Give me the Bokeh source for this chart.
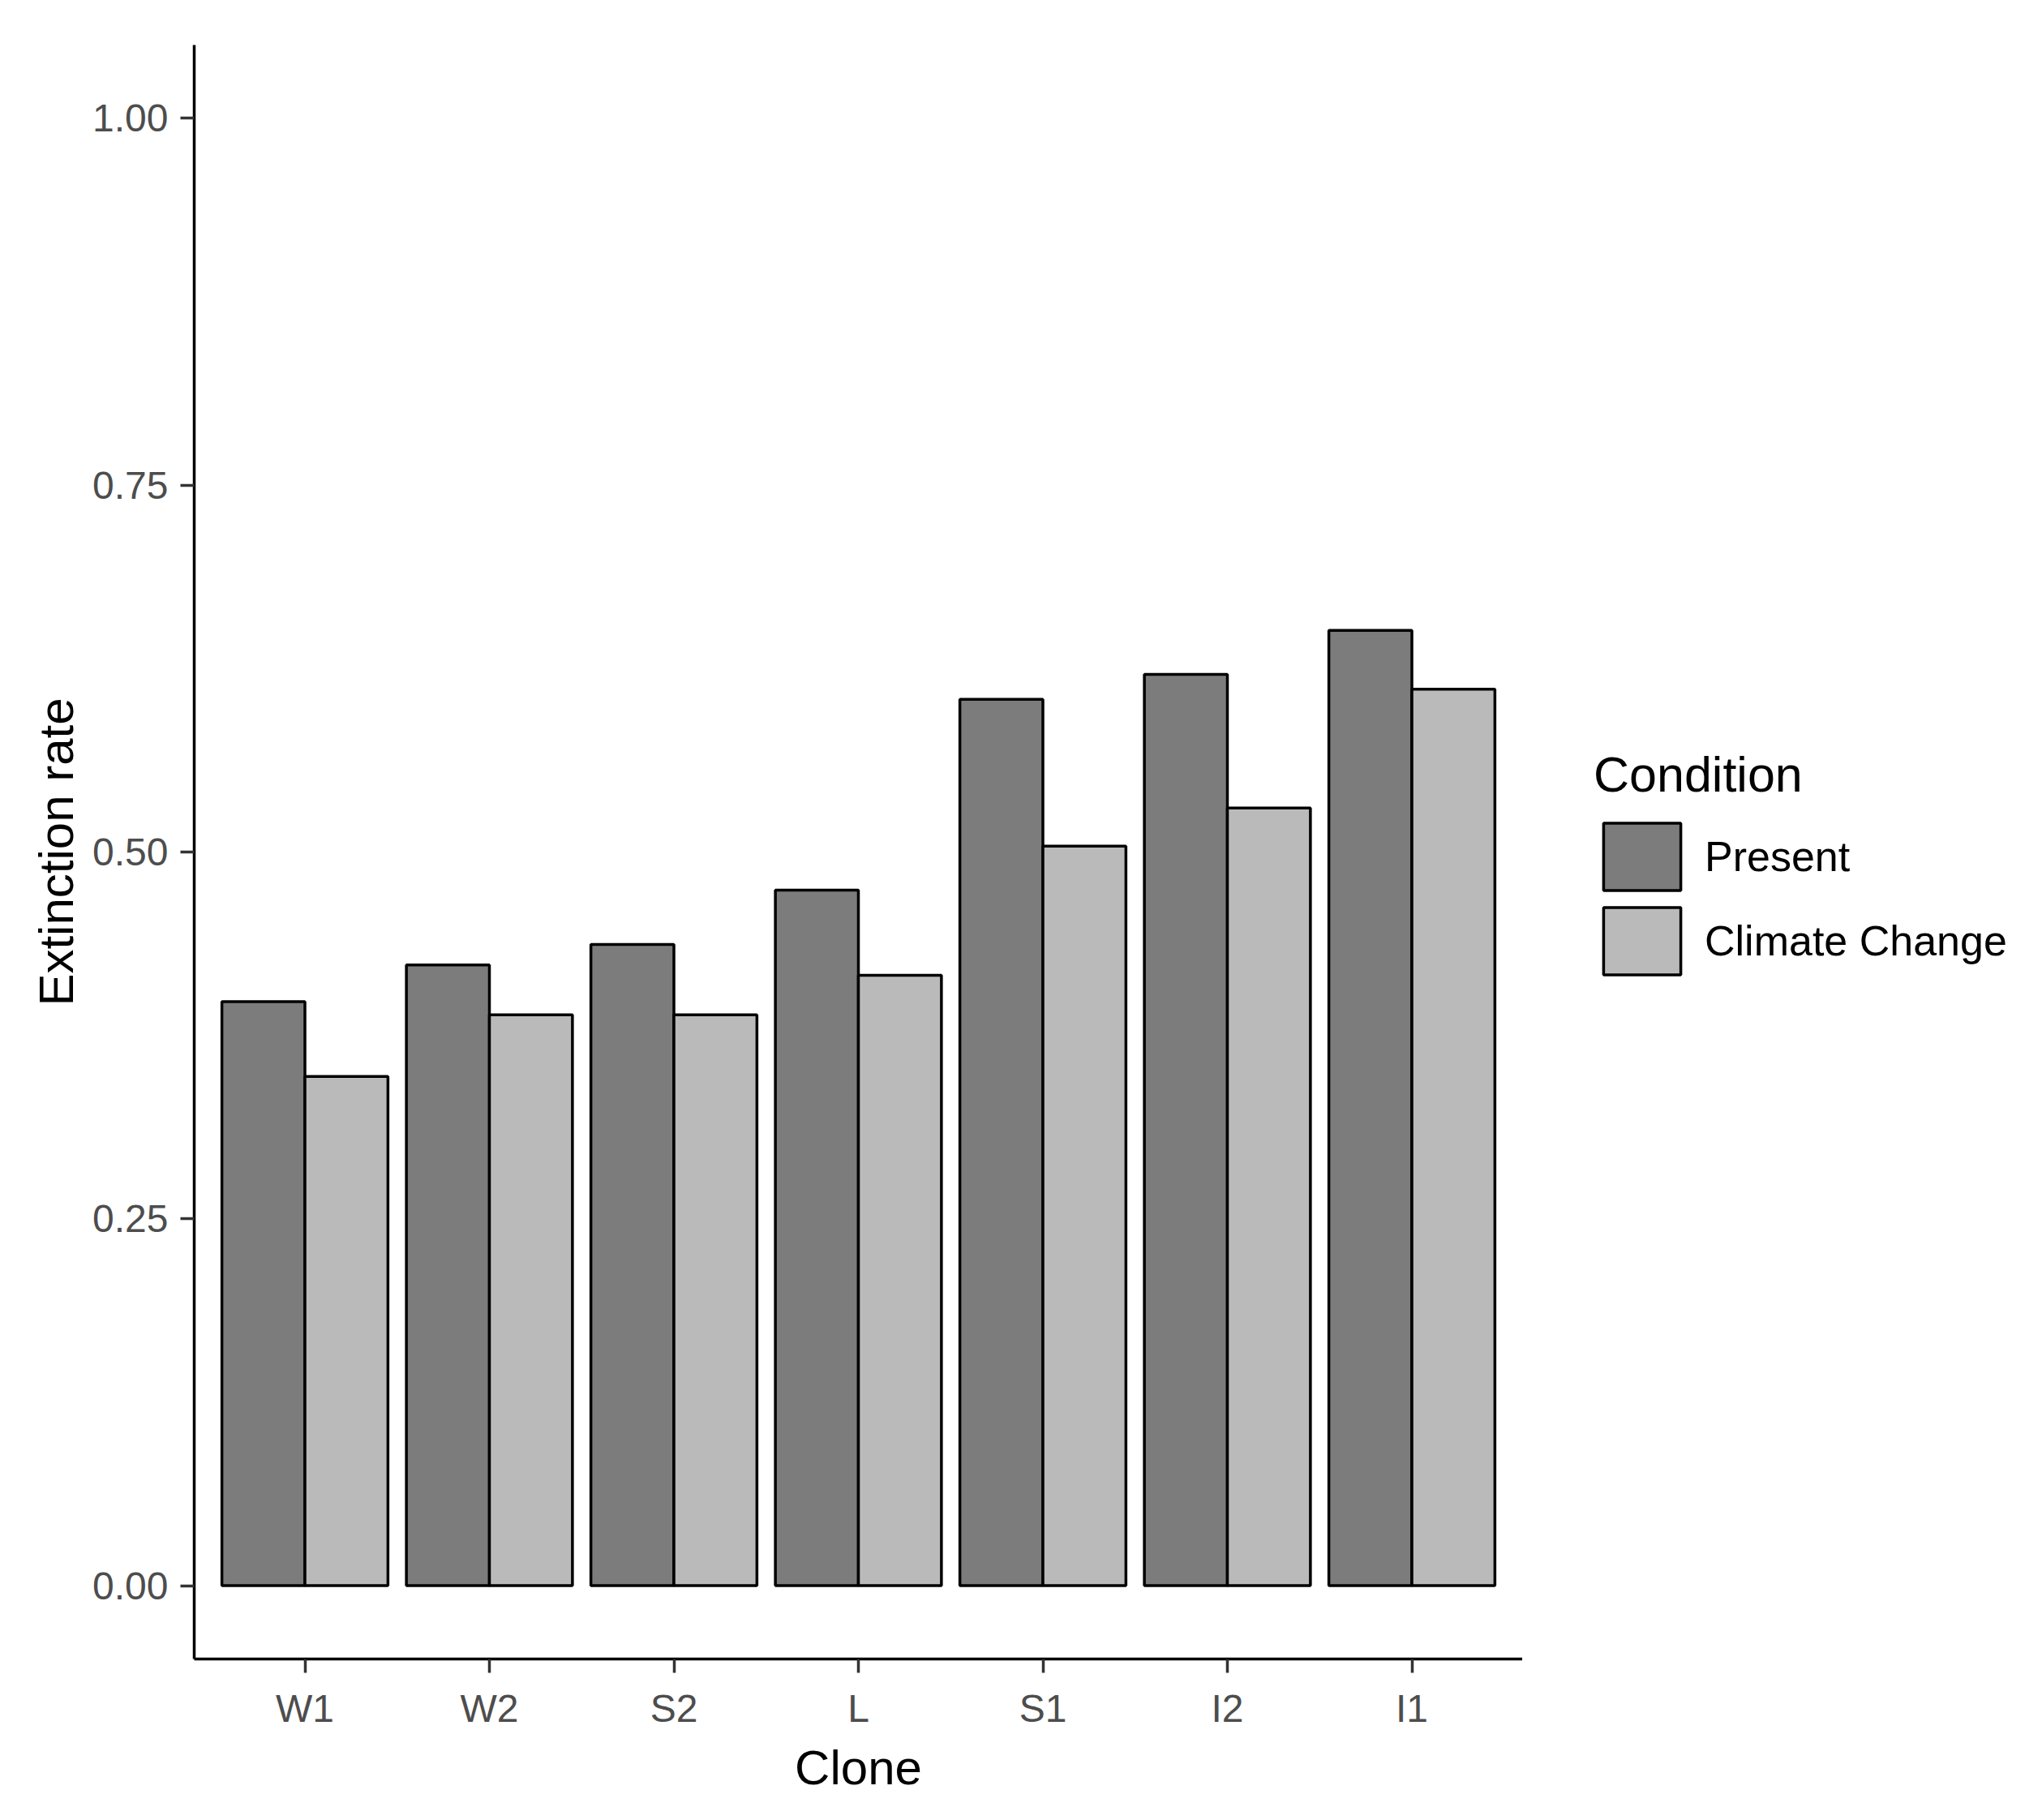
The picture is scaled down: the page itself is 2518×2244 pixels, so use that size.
from bokeh.plotting import figure
from bokeh.layouts import row
from bokeh.models import (ColumnDataSource, FactorRange, FixedTicker, PrintfTickFormatter,
                          Legend, LegendItem, Range1d)
from bokeh.transform import dodge
from bokeh.embed import file_html
from bokeh.resources import INLINE

clones = ["W1", "W2", "S2", "L", "S1", "I2", "I1"]
present = [0.398, 0.423, 0.437, 0.474, 0.604, 0.621, 0.651]
climate_change = [0.347, 0.389, 0.389, 0.416, 0.504, 0.530, 0.611]
y_ticks = [0.0, 0.25, 0.50, 0.75, 1.00]
conditions = ["Present", "Climate Change"]
colors = ["#7C7C7C", "#BABABA"]

source = ColumnDataSource(data=dict(clone=clones, present=present, cc=climate_change))

FONT = "Liberation Sans"

# ---- main plot -------------------------------------------------------------
p = figure(x_range=FactorRange(factors=clones, range_padding=0.1, range_padding_units="absolute"),
           y_range=Range1d(-0.05, 1.05),
           width=1877, height=2228,
           min_border_left=239, min_border_top=55, min_border_bottom=183, min_border_right=0,
           output_backend="svg", toolbar_location=None)

p.vbar(x=dodge("clone", -0.225, range=p.x_range), top="present", width=0.45, bottom=0,
       source=source, fill_color=colors[0], line_color="black", line_width=3.5)
p.vbar(x=dodge("clone", 0.225, range=p.x_range), top="cc", width=0.45, bottom=0,
       source=source, fill_color=colors[1], line_color="black", line_width=3.5)

p.xgrid.visible = False
p.ygrid.visible = False
p.outline_line_color = None
p.background_fill_color = "white"
p.border_fill_color = "white"

for ax in (p.xaxis[0], p.yaxis[0]):
    ax.axis_line_color = "black"
    ax.axis_line_width = 3.5
    ax.major_tick_line_color = "#333333"
    ax.major_tick_line_width = 3.5
    ax.major_tick_out = 17
    ax.major_tick_in = 0
    ax.minor_tick_line_color = None
    ax.major_label_text_font = FONT
    ax.major_label_text_font_size = "48px"
    ax.major_label_text_color = "#4D4D4D"
    ax.axis_label_text_font = FONT
    ax.axis_label_text_font_size = "60px"
    ax.axis_label_text_font_style = "normal"
    ax.axis_label_text_color = "black"

p.xaxis.axis_label = "Clone"
p.yaxis.axis_label = "Extinction rate"
p.xaxis.major_label_standoff = 17
p.yaxis.major_label_standoff = 15
p.xaxis.axis_label_standoff = 10
p.yaxis.axis_label_standoff = 8
p.yaxis.ticker = FixedTicker(ticks=y_ticks)
p.yaxis.formatter = PrintfTickFormatter(format="%.2f")

# ---- legend panel (hidden renderers only supply the key styles) ------------
lg = figure(width=625, height=2228, x_range=FactorRange(factors=clones), y_range=Range1d(2, 3),
            min_border=0, output_backend="svg", toolbar_location=None)
lg.axis.visible = False
lg.xgrid.visible = False
lg.ygrid.visible = False
lg.outline_line_color = None
lg.background_fill_color = "white"
lg.border_fill_color = "white"

k1 = lg.vbar(x="clone", top="present", width=0.45, bottom=0, source=source,
             fill_color=colors[0], line_color="black", line_width=3.5)
k2 = lg.vbar(x="clone", top="cc", width=0.45, bottom=0, source=source,
             fill_color=colors[1], line_color="black", line_width=3.5)
k1.visible = False
k2.visible = False

legend = Legend(items=[LegendItem(label=conditions[0], renderers=[k1]),
                       LegendItem(label=conditions[1], renderers=[k2])],
                title="Condition", location=(88, 833))
legend.title_text_font = FONT
legend.title_text_font_size = "61px"
legend.title_text_font_style = "normal"
legend.title_text_color = "black"
legend.title_standoff = 14
legend.label_text_font = FONT
legend.label_text_font_size = "52px"
legend.label_text_color = "black"
legend.glyph_width = 119
legend.glyph_height = 104
legend.label_height = 104
legend.label_standoff = 18
legend.spacing = 0
legend.padding = 0
legend.margin = 0
legend.inactive_fill_alpha = 0
legend.border_line_color = None
legend.background_fill_color = None
lg.add_layout(legend)

layout = row(p, lg, spacing=0)
open("out.html", "w").write(file_html(layout, INLINE))
